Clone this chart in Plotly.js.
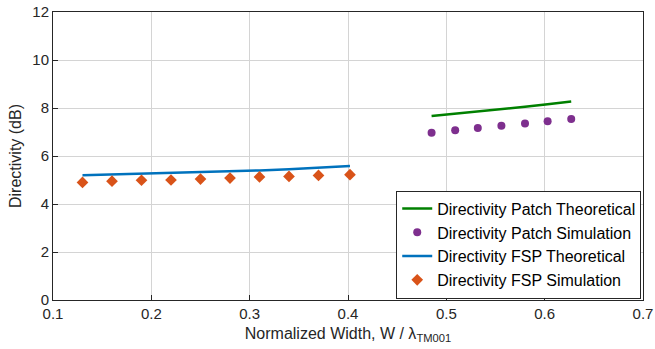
<!DOCTYPE html>
<html><head><meta charset="utf-8">
<script src="https://cdn.plot.ly/plotly-3.0.1.min.js"></script>
<style>html,body{margin:0;padding:0;background:#fff}#g{width:655px;height:349px}</style>
</head><body><div id="g"></div>
<script>
const fspX = [0.130, 0.160, 0.190, 0.220, 0.250, 0.280, 0.310, 0.340, 0.370, 0.402];
const fspSim = [4.90, 4.95, 4.99, 5.00, 5.04, 5.08, 5.13, 5.15, 5.19, 5.22];
const fspTheo = [5.20, 5.23, 5.26, 5.29, 5.32, 5.36, 5.40, 5.45, 5.51, 5.58];
const patchX = [0.485, 0.509, 0.532, 0.556, 0.580, 0.603, 0.627];
const patchSim = [6.97, 7.07, 7.17, 7.26, 7.35, 7.45, 7.54];
const patchTheo = [7.67, 7.76, 7.85, 7.95, 8.05, 8.16, 8.27];
const xTicks = [0.1, 0.2, 0.3, 0.4, 0.5, 0.6, 0.7];
const yTicks = [0, 2, 4, 6, 8, 10, 12];

const font = "Liberation Sans, Arial, sans-serif";
const traces = [
  {x: patchX, y: patchTheo, mode: 'lines', name: 'Directivity Patch Theoretical', line: {color: '#008000', width: 2.5}},
  {x: patchX, y: patchSim, mode: 'markers', name: 'Directivity Patch Simulation', marker: {color: '#7E2F8E', size: 8, symbol: 'circle'}},
  {x: fspX, y: fspTheo, mode: 'lines', name: 'Directivity FSP Theoretical', line: {color: '#0072BD', width: 2.5}},
  {x: fspX, y: fspSim, mode: 'markers', name: 'Directivity FSP Simulation', marker: {color: '#D95319', size: 9, symbol: 'diamond'}}
];
const axCommon = {
  showgrid: true, gridcolor: '#d4d4d4', gridwidth: 1,
  showline: true, linecolor: '#262626', linewidth: 1, mirror: true,
  ticks: 'inside', ticklen: 5, tickcolor: '#262626',
  tickfont: {family: font, size: 15, color: '#262626'},
  zeroline: false
};
const layout = {
  width: 655, height: 349,
  margin: {l: 53, r: 12, t: 12, b: 49},
  paper_bgcolor: '#fff', plot_bgcolor: '#fff',
  font: {family: font, color: '#262626'},
  xaxis: Object.assign({}, axCommon, {
    range: [0.1, 0.7], tickvals: xTicks, ticktext: xTicks.map(String),
    title: {text: 'Normalized Width, W / λ<sub>TM001</sub>', font: {family: font, size: 16, color: '#262626'}, standoff: 6}
  }),
  yaxis: Object.assign({}, axCommon, {
    range: [0, 12], tickvals: yTicks, ticktext: yTicks.map(String),
    title: {text: 'Directivity (dB)', font: {family: font, size: 16, color: '#262626'}, standoff: 6}
  }),
  showlegend: true,
  legend: {
    x: 0.997, y: 0.005, xanchor: 'right', yanchor: 'bottom',
    bgcolor: '#fff', bordercolor: '#262626', borderwidth: 1,
    font: {family: font, size: 16, color: '#000'},
    tracegroupgap: 0, itemwidth: 30
  }
};
Plotly.newPlot('g', traces, layout, {staticPlot: true, displayModeBar: false});
</script></body></html>
